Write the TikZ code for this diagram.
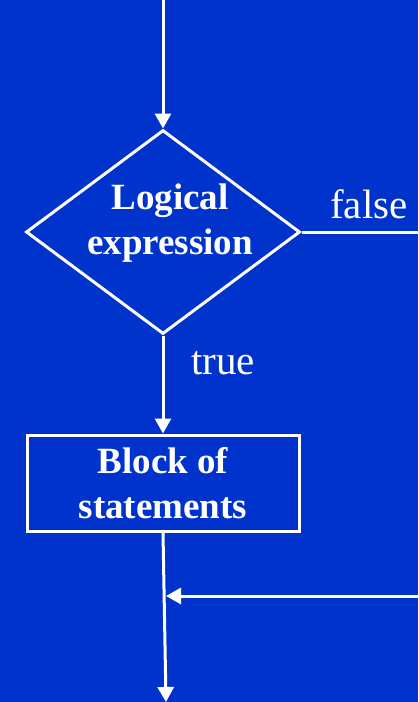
\documentclass[tikz,border=0pt]{standalone}
\usepackage{fontspec}
\setmainfont{Liberation Serif}
\usepackage{tikz}
\usetikzlibrary{positioning,shapes,arrows.meta}
\definecolor{slideblue}{RGB}{0,51,204}
\tikzset{
  basic/.style  = {draw=white, line width=3pt, text=white, inner sep=0pt},
  decision/.style = {basic, diamond, minimum width=274pt, minimum height=204pt},
  block/.style  = {basic, rectangle, minimum width=272pt, minimum height=96pt,
                   align=center, font=\fontsize{37}{45}\selectfont\bfseries},
  boldtext/.style = {text=white, align=center, font=\fontsize{37}{45}\selectfont\bfseries},
  caption/.style = {text=white, inner sep=0pt, font=\fontsize{41}{49}\selectfont},
  wire/.style   = {draw=white, line width=3pt},
  edge/.style   = {wire, -{Triangle[width=16pt,length=15pt]}}
}

\begin{document}
\begin{tikzpicture}[x=1pt,y=-1pt]
      \useasboundingbox (0,0) rectangle (418,702);
      \fill[slideblue] (0,0) rectangle (418,702);
      \coordinate (top) at (163,0);
      \node[decision] (cond) at (163,232) {};
      \node[boldtext] (condtext) at (170,223) {Logical\\expression};
      \node[block] (blk) at (163,483) {Block of\\statements};
      \coordinate (falseend) at (425,232);
      \coordinate (back) at (425,596);
      \coordinate (join) at (166,596);
      \coordinate (exit) at (166,702);
      \node[caption, anchor=base west] (falselbl) at (330,218) {false};
      \node[caption, anchor=base west] (truelbl) at (191,374) {true};
      \draw[edge] (top) -- (cond.north);
      \draw[wire] (cond.east) -- (falseend);
      \draw[edge] (cond.south) -- (blk.north);
      \draw[edge] (blk.south) -- (exit);
      \draw[edge] (back) -- (join);
    \end{tikzpicture}
\end{document}
